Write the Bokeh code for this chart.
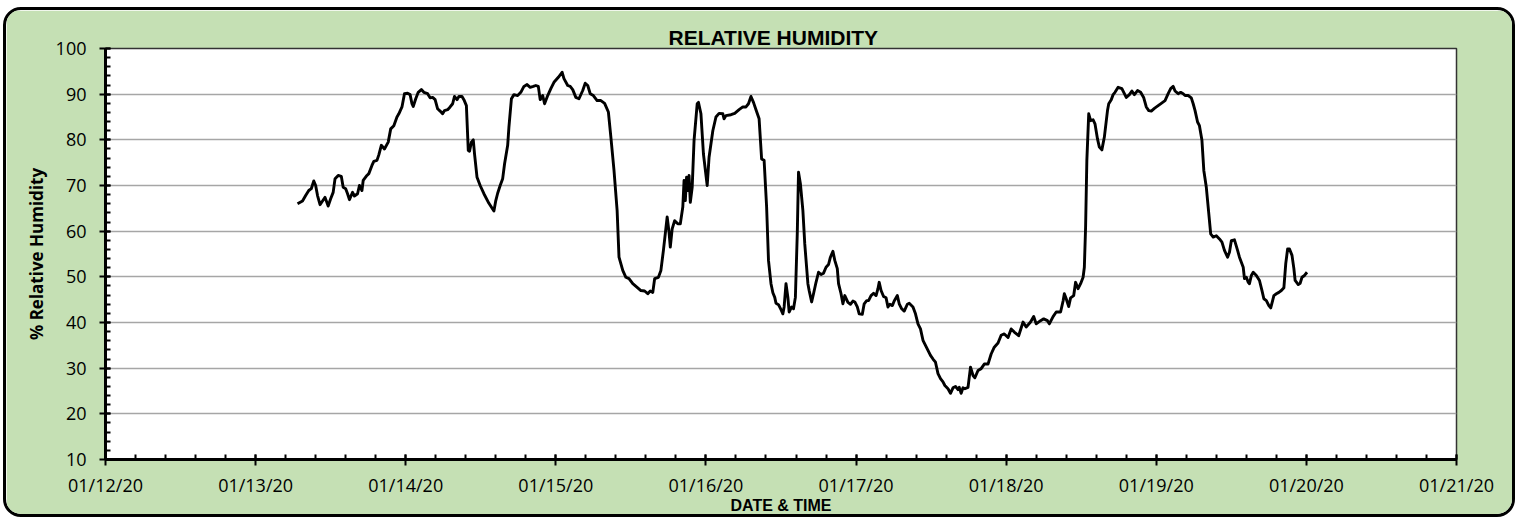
import numpy as np
from bokeh.plotting import figure
from bokeh.models import FixedTicker, Range1d
from bokeh.embed import file_html
from bokeh.resources import INLINE

# Hours elapsed since 01/12/20 00:00
hours = [
    30.7, 31.5, 32.0, 32.5, 32.9, 33.3, 33.6, 33.9, 34.3, 34.7, 35.1, 35.6, 36.0, 36.4, 36.7, 37.2,
    37.7, 38.0, 38.4, 38.7, 39.0, 39.5, 39.8, 40.3, 40.6, 41.0, 41.2, 41.8, 42.1, 42.6, 42.9, 43.4,
    43.7, 44.1, 44.6, 45.2, 45.6, 46.1, 46.6, 46.9, 47.4, 47.8, 48.3, 48.7, 49.0, 49.2, 49.6, 50.0,
    50.5, 50.9, 51.5, 51.9, 52.3, 52.7, 53.1, 53.5, 53.9, 54.2, 54.7, 55.1, 55.5, 55.8, 56.2, 56.5,
    57.0, 57.3, 57.7, 58.0, 58.2, 58.5, 58.8, 59.0, 59.4, 59.9, 60.5, 61.3, 62.1, 62.4, 62.7, 63.1,
    63.5, 63.8, 64.3, 64.5, 64.9, 65.3, 65.9, 66.4, 66.9, 67.4, 67.9, 68.4,
    68.8, 69.2, 69.5, 69.9, 70.2, 70.7, 71.2, 71.7, 72.4, 73.0, 73.3, 73.9, 74.3, 74.7, 75.2, 75.7,
    76.3, 76.7, 77.1, 77.5, 78.0, 78.6, 79.2, 79.8, 80.4, 80.8, 81.3, 81.8, 82.1, 82.7, 83.2, 83.7,
    84.3, 85.0, 85.6, 86.2, 86.7, 87.1, 87.5, 87.8, 88.4, 88.8, 89.2, 89.8, 90.1, 90.3, 90.6, 91.0,
    91.5, 91.9, 92.3, 92.5, 92.7, 92.9, 93.1, 93.3, 93.5, 93.8, 94.1, 94.6, 94.8, 95.2, 95.6, 96.2,
    96.5, 97.1, 97.6, 98.1, 98.7, 98.9, 99.2, 100.0, 100.6, 101.3, 101.9, 102.4, 102.8, 103.2, 103.6, 104.0,
    104.5, 104.9, 105.3, 105.7, 106.0, 106.4, 106.7, 107.0,
    107.2, 107.6, 108.0, 108.3, 108.5, 108.8, 109.1, 109.3, 109.7, 110.0, 110.3, 110.6, 110.8, 111.1, 111.5, 111.8,
    112.3, 112.5, 112.9, 113.2, 113.6, 114.0, 114.4, 114.8, 115.2, 115.6, 115.9, 116.3, 116.6, 117.0, 117.2, 117.6,
    117.9, 118.2, 118.7, 119.1, 119.5, 119.8, 120.2, 120.5, 121.0, 121.3, 121.7, 122.0, 122.4, 122.8, 123.2, 123.5,
    123.7, 124.0, 124.4, 124.8, 125.1, 125.4, 125.8, 126.1, 126.6, 126.9, 127.3, 127.7, 128.2, 128.5, 129.1, 129.5,
    129.9, 130.3, 130.7, 131.1, 131.5, 131.9, 132.3, 132.7, 133.1, 133.5, 133.9, 134.2, 134.7, 135.1, 135.5, 135.9,
    136.3, 136.5, 136.8, 137.1, 137.4, 137.9, 138.3, 138.7, 139.0, 139.5, 140.0, 140.5, 141.1, 141.6, 142.1, 142.7,
    143.2, 143.7, 144.3, 144.8,
    145.3, 146.0, 146.7, 147.2, 147.9, 148.4, 148.8, 149.5, 150.0, 150.6, 150.9, 151.5, 152.0, 152.7, 153.1, 153.3,
    153.6, 154.0, 154.3, 154.8, 155.1, 155.5, 155.9, 156.3, 156.5, 156.7, 156.9, 157.2, 157.5, 157.9, 158.2, 158.6,
    158.9, 159.3, 159.7, 160.2, 160.4, 160.8, 161.1, 161.4, 161.9, 162.5, 163.2, 163.7, 164.1, 164.5, 165.0, 165.5,
    166.0, 166.4, 166.8, 167.2, 167.7, 168.3, 168.8, 169.4, 169.9, 170.3, 170.7, 171.0, 171.5, 171.9, 172.3, 172.6,
    173.1, 173.6, 173.9, 174.2, 174.6, 174.9, 175.3, 175.6, 176.0, 176.4, 176.7, 177.1, 177.6, 178.1, 178.5, 178.9,
    179.4, 179.7, 180.0, 180.5, 181.0, 181.3,
    181.9, 182.1, 182.4, 182.7, 182.9, 183.2, 183.5, 184.0, 184.5, 184.9, 185.2, 185.6, 186.0, 186.3, 186.6, 186.8,
    187.2, 187.6, 188.0, 188.4, 188.7, 189.0, 189.3, 189.7, 190.0, 190.2, 190.7, 191.0, 191.3, 191.7, 192.1,
]

# % relative humidity
rh = [
    66.0, 66.6, 67.8, 68.9, 69.3, 71.0, 70.0, 67.8, 65.8, 66.6, 67.4, 65.5, 67.1, 68.5, 71.5, 72.2,
    72.0, 69.6, 69.3, 68.2, 66.9, 68.5, 67.7, 68.2, 70.0, 68.9, 71.1, 72.2, 72.6, 74.4, 75.3, 75.5,
    76.7, 78.8, 78.0, 79.5, 82.4, 83.1, 85.0, 85.7, 87.2, 90.1, 90.2, 89.9, 87.9, 87.3, 89.0, 90.4,
    91.0, 90.4, 90.1, 89.2, 89.3, 88.8, 86.8, 86.3, 85.7, 86.4, 86.6, 87.2, 87.9, 89.5, 88.8, 89.5,
    89.5, 88.8, 87.5, 77.7, 77.5, 79.5, 80.0, 76.9, 71.8, 70.0, 68.2, 66.1, 64.4, 66.7, 68.3, 70.0,
    71.5, 74.7, 78.8, 82.8, 89.0, 89.9, 89.7, 90.4, 91.7, 92.1, 91.5, 91.7,
    91.9, 91.7, 88.8, 89.7, 87.9, 89.7, 91.2, 92.6, 93.7, 94.8, 93.4, 91.9, 91.7, 91.0, 89.3, 89.0,
    90.8, 92.4, 91.9, 90.1, 89.7, 88.6, 88.6, 88.0, 86.1, 80.6, 73.3, 64.5, 54.3, 51.4, 49.9, 49.6,
    48.5, 47.7, 47.0, 46.9, 46.3, 46.9, 46.6, 49.6, 49.9, 51.4, 55.8, 63.1, 59.8, 56.5, 60.5, 62.3,
    61.6, 61.6, 65.3, 71.1, 66.7, 71.8, 68.9, 72.2, 66.3, 69.6, 79.9, 87.9, 88.2, 85.7, 76.9, 70.0,
    76.2, 82.0, 85.0, 85.8, 85.7, 84.6, 85.3, 85.5, 85.8, 86.6, 87.2, 87.2, 87.9, 89.5, 88.2, 86.6,
    84.6, 75.8, 75.5, 65.3, 53.6, 48.5, 46.5, 45.5,
    44.2, 43.9, 42.8, 41.9, 43.4, 48.5, 45.5, 42.3, 43.4, 43.0, 45.5, 59.4, 72.9, 70.4, 64.5, 57.2,
    48.5, 47.0, 44.5, 46.3, 48.8, 51.0, 50.5, 50.8, 52.1, 52.7, 54.3, 55.6, 53.6, 51.8, 48.5, 46.3,
    44.1, 45.9, 44.4, 44.0, 44.7, 44.5, 43.4, 41.9, 41.8, 44.1, 44.8, 44.8, 45.9, 46.4, 45.9, 47.4,
    48.8, 47.0, 45.7, 45.4, 43.4, 44.0, 43.7, 44.7, 45.9, 44.1, 43.0, 42.5, 44.0, 44.2, 43.4, 41.9,
    39.7, 38.6, 36.1, 35.0, 33.9, 32.8, 32.0, 31.3, 28.8, 27.7, 27.0, 26.2, 25.5, 24.5, 25.7, 26.0,
    25.3, 25.8, 24.5, 25.7, 25.5, 25.8, 30.2, 28.4, 27.9, 29.5, 29.9, 30.9, 30.9, 33.1, 34.6, 35.5,
    37.2, 37.5, 36.7, 38.6,
    37.9, 37.1, 40.1, 39.0, 40.1, 41.3, 39.7, 40.4, 40.8, 40.4, 39.7, 41.3, 42.3, 42.3, 44.7, 46.3,
    45.2, 43.5, 45.4, 45.9, 48.8, 47.4, 48.5, 49.9, 52.1, 60.9, 75.5, 85.7, 84.2, 84.4, 83.5, 80.2,
    78.4, 77.8, 80.6, 86.4, 87.9, 88.8, 89.9, 90.4, 91.5, 91.2, 89.3, 89.9, 90.7, 89.9, 90.8, 90.4,
    89.2, 87.2, 86.4, 86.3, 86.9, 87.5, 88.0, 88.6, 90.1, 91.2, 91.7, 90.7, 90.1, 90.4, 90.1, 89.7,
    89.7, 89.2, 87.9, 86.4, 83.9, 83.1, 79.9, 73.3, 69.6, 63.8, 59.4, 58.7, 59.0, 58.3, 57.6, 55.8,
    54.3, 55.4, 57.9, 58.1, 55.8, 54.3,
    52.1, 49.6, 49.9, 48.8, 48.5, 50.3, 51.0, 50.3, 49.2, 47.0, 45.2, 44.8, 43.7, 43.2, 44.8, 45.9,
    46.3, 46.6, 47.0, 47.6, 52.9, 56.1, 56.1, 54.7, 51.8, 49.2, 48.3, 48.6, 49.9, 50.3, 51.0,
]

tick_labels = ["01/12/20", "01/13/20", "01/14/20", "01/15/20", "01/16/20",
               "01/17/20", "01/18/20", "01/19/20", "01/20/20", "01/21/20"]

FONT = "Open Sans"

p = figure(width=1512, height=510, output_backend="svg", toolbar_location=None,
           x_range=Range1d(0, 216), y_range=Range1d(10, 100),
           min_border_left=99, min_border_right=62, min_border_top=38, min_border_bottom=61,
           title="RELATIVE HUMIDITY")

p.styles = {"border": "3px solid black", "border-radius": "18px", "overflow": "hidden",
            "margin": "7px 0px 0px 3px"}

p.background_fill_color = "white"
p.border_fill_color = "#C5E0B4"
p.outline_line_color = "#333333"
p.outline_line_width = 1.5

p.title.align = "left"
p.title.offset = 563
p.title.text_font = "Liberation Sans"
p.title.text_font_size = "21px"
p.title.text_font_style = "bold"
p.title.text_color = "black"
p.title.standoff = 0

day_ticks = [24 * i for i in range(len(tick_labels))]
minor_x = list(np.arange(0, 216.01, 4.8))
xticker = FixedTicker(ticks=day_ticks, minor_ticks=minor_x)
yticker = FixedTicker(ticks=list(range(10, 101, 10)), minor_ticks=list(range(10, 101, 2)))

p.xaxis.ticker = xticker
p.xaxis.major_label_overrides = {t: lab for t, lab in zip(day_ticks, tick_labels)}
p.yaxis.ticker = yticker

for ax in (p.xaxis[0], p.yaxis[0]):
    ax.axis_line_color = "black"
    ax.axis_line_width = 3
    ax.major_tick_line_color = "black"
    ax.major_tick_line_width = 2
    ax.minor_tick_line_color = "black"
    ax.minor_tick_line_width = 2
    ax.major_tick_in = 5
    ax.major_tick_out = 6
    ax.minor_tick_in = 5
    ax.minor_tick_out = 0
    ax.major_label_text_font = FONT
    ax.major_label_text_font_size = "18px"
    ax.major_label_text_color = "black"
    ax.axis_label_text_font_style = "bold"
    ax.axis_label_text_color = "black"

p.xaxis.axis_label = "DATE & TIME"
p.xaxis.axis_label_text_font = "Liberation Sans"
p.xaxis.axis_label_text_font_size = "16px"
p.xaxis.major_label_standoff = 7
p.xaxis.axis_label_standoff = -3

p.yaxis.axis_label = "% Relative Humidity"
p.yaxis.axis_label_text_font = FONT
p.yaxis.axis_label_text_font_size = "17px"
p.yaxis.major_label_standoff = 13
p.yaxis.axis_label_standoff = 5

p.xgrid.visible = False
p.ygrid.ticker = yticker
p.ygrid.grid_line_color = "#A6A6A6"
p.ygrid.grid_line_width = 1.5

p.line(hours, rh, line_color="black", line_width=2.9, line_join="round")

open("out.html", "w").write(file_html(p, INLINE))
